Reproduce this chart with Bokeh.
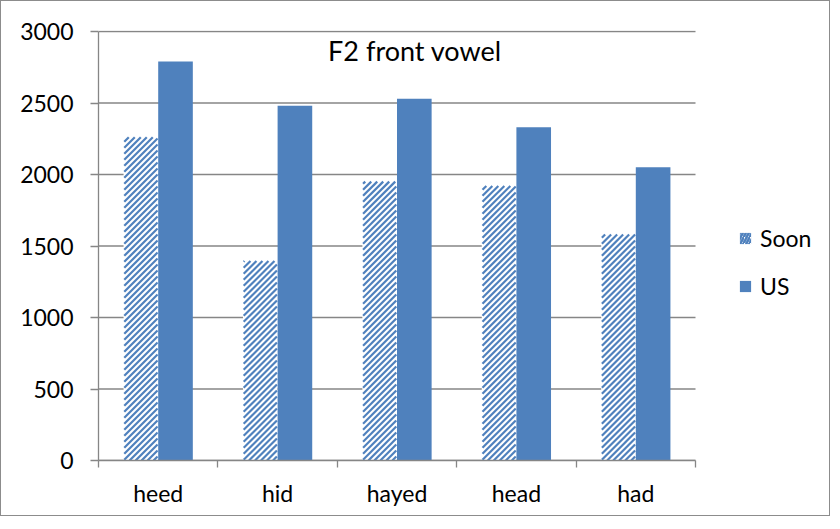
from bokeh.plotting import figure
from bokeh.models import (ColumnDataSource, FixedTicker, Legend, LegendItem, Label, Range1d)
from bokeh.embed import file_html
from bokeh.resources import INLINE

categories = ["heed", "hid", "hayed", "head", "had"]
soon = [2265, 1400, 1955, 1925, 1585]
us = [2790, 2480, 2530, 2330, 2050]
y_ticks = [0, 500, 1000, 1500, 2000, 2500, 3000]
title_text = "F2 front vowel"

BLUE = "#4F81BD"
GRID = "#868686"
FONT = "Lato"

n = len(categories)
idx = list(range(n))
bar_w = 0.29

FRAME_W = 733      # frame spans to the right edge (legend lives inside)
CAT_W = 597        # width in px of the category area
FRAME_H = 430
Y_END = 3007
x_end = n * FRAME_W / CAT_W

src_soon = ColumnDataSource(dict(x=[i + 0.5 - bar_w / 2 for i in idx], top=soon))
src_us = ColumnDataSource(dict(x=[i + 0.5 + bar_w / 2 for i in idx], top=us))

p = figure(width=830, height=516, output_backend="svg", toolbar_location=None,
           x_range=Range1d(0, x_end), y_range=Range1d(0, Y_END),
           min_border_left=97, min_border_right=0, min_border_top=29, min_border_bottom=57)
p.styles = {"border": "1px solid #8c8c8c"}
p.outline_line_color = None
p.background_fill_color = "white"

# horizontal gridlines limited to the category area
p.segment(x0=0, x1=n, y0=y_ticks, y1=y_ticks, line_color=GRID, line_width=1.3)

# Soon bars: white base + 45-degree diagonal stripes
p.vbar(x="x", top="top", width=bar_w, source=src_soon, fill_color="white", line_color=None)
sx = CAT_W / n          # px per x unit
sy = FRAME_H / Y_END    # px per y unit
period = 6.0
inset = 0.7
sx0, sy0, sx1, sy1 = [], [], [], []
for i, top in zip(idx, soon):
    xl = i + 0.5 - bar_w
    W = bar_w * sx
    H = top * sy
    k = int(-H // period) - 1
    while k * period <= W + period:
        c = k * period
        u0 = max(inset, c)
        u1 = min(W - inset, H - inset + c)
        if u1 - u0 > 0.3:
            sx0.append(xl + u0 / sx); sy0.append((u0 - c) / sy)
            sx1.append(xl + u1 / sx); sy1.append((u1 - c) / sy)
        k += 1
p.segment(x0=sx0, y0=sy0, x1=sx1, y1=sy1, line_color=BLUE, line_width=2.2, line_cap="butt")

r_us = p.vbar(x="x", top="top", width=bar_w, source=src_us, fill_color=BLUE, line_color=None)

# legend proxy for the hatched series (zero-height bars, only its legend glyph shows)
r_soon_leg = p.vbar(x="x", top=0, bottom=0, width=bar_w, source=src_soon,
                    fill_color="white", line_color=None,
                    hatch_pattern="right_diagonal_line", hatch_color=BLUE,
                    hatch_scale=6, hatch_weight=2.5)

# x axis: ticks at category boundaries, labels at centers
xa = p.xaxis[0]
xa.bounds = (0, n)
xa.ticker = FixedTicker(ticks=[i + 0.5 for i in idx], minor_ticks=list(range(n + 1)))
xa.major_label_overrides = {i + 0.5: c for i, c in zip(idx, categories)}
xa.major_tick_line_color = None
xa.major_tick_out = 0
xa.major_tick_in = 0
xa.minor_tick_out = 7
xa.minor_tick_in = 0
xa.minor_tick_line_color = GRID
xa.minor_tick_line_width = 1.3
xa.axis_line_color = GRID
xa.axis_line_width = 1.3
xa.major_label_text_font = FONT
xa.major_label_text_font_size = "23px"
xa.major_label_text_color = "black"
xa.major_label_standoff = 11

ya = p.yaxis[0]
ya.bounds = (0, 3000)
ya.ticker = FixedTicker(ticks=y_ticks, minor_ticks=[])
ya.major_tick_out = 8
ya.major_tick_in = 0
ya.major_tick_line_color = GRID
ya.major_tick_line_width = 1.3
ya.minor_tick_line_color = None
ya.axis_line_color = GRID
ya.axis_line_width = 1.3
ya.major_label_text_font = FONT
ya.major_label_text_font_size = "23px"
ya.major_label_text_color = "black"
ya.major_label_standoff = 17

p.xgrid.grid_line_color = None
p.ygrid.grid_line_color = None

p.add_layout(Label(x=2.65, y=2870, text=title_text, text_align="center", text_baseline="middle",
                   text_font=FONT, text_font_size="27px", text_color="black"))

legend = Legend(items=[LegendItem(label="Soon", renderers=[r_soon_leg]),
                       LegendItem(label="US", renderers=[r_us])],
                location=(640, 160), orientation="vertical",
                border_line_color=None, background_fill_alpha=0,
                padding=0, margin=0, spacing=20, glyph_width=14, glyph_height=14,
                label_height=28, label_standoff=8,
                label_text_font=FONT, label_text_font_size="23px", label_text_color="black")
p.add_layout(legend)

open("out.html", "w").write(file_html(p, INLINE))
